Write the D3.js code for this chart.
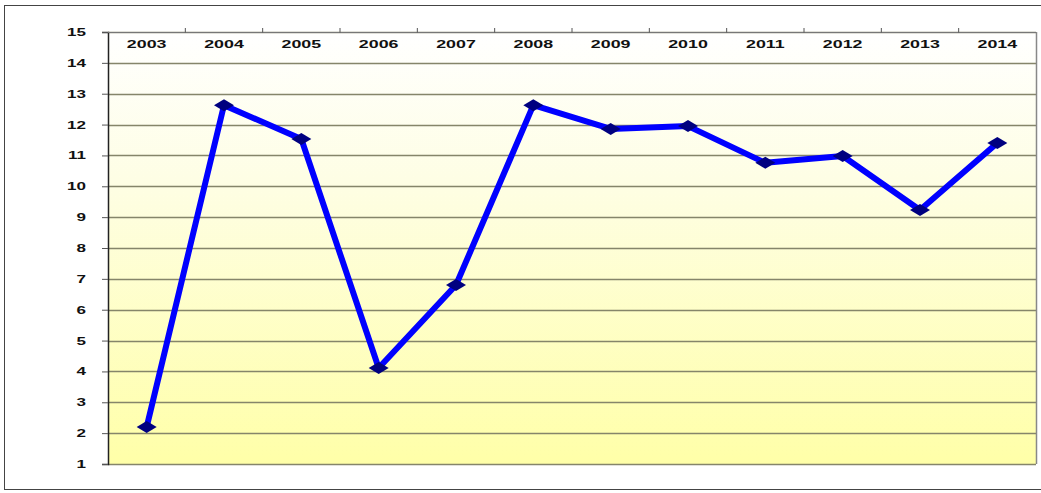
<!DOCTYPE html>
<html>
<head>
<meta charset="utf-8">
<script src="https://cdn.jsdelivr.net/npm/d3@7"></script>
<style>
  body { margin: 0; background: #fff; }
  svg text { font-family: "Liberation Sans", Arial, sans-serif; font-weight: bold; fill: #111; }
</style>
</head>
<body>
<div id="chart"></div>
<script>
// data
const years = ["2003", "2004", "2005", "2006", "2007", "2008", "2009", "2010", "2011", "2012", "2013", "2014"];
const values = [2.2, 12.63, 11.53, 4.11, 6.8, 12.63, 11.86, 11.95, 10.76, 10.98, 9.23, 11.4];
const yTicks = d3.range(1, 16);

const width = 1041, height = 493;
const margin = { top: 32, right: 5, bottom: 29, left: 108 };
const w = width - margin.left - margin.right;
const h = height - margin.top - margin.bottom;
const stretch = 1.55; // the source text is wide, squashed vertically

const svg = d3.select("#chart").append("svg")
  .attr("width", width)
  .attr("height", height);

// outer frame of the chart object
svg.append("rect")
  .attr("x", 4.5).attr("y", 5.5)
  .attr("width", width + 10).attr("height", 484)
  .attr("fill", "#fff")
  .attr("stroke", "#444").attr("stroke-width", 1);

const defs = svg.append("defs");
const grad = defs.append("linearGradient")
  .attr("id", "bg").attr("x1", 0).attr("y1", 0).attr("x2", 0).attr("y2", 1);
grad.append("stop").attr("offset", "0%").attr("stop-color", "#ffffff");
grad.append("stop").attr("offset", "35%").attr("stop-color", "#fefee4");
grad.append("stop").attr("offset", "100%").attr("stop-color", "#ffffa8");

const g = svg.append("g")
  .attr("transform", "translate(" + margin.left + "," + margin.top + ")");

const x = d3.scaleBand().domain(years).range([0, w]);
const y = d3.scaleLinear().domain([1, 15]).range([h, 0]);

g.append("rect")
  .attr("width", w).attr("height", h)
  .attr("fill", "url(#bg)");

// gridlines
g.selectAll(".grid")
  .data(yTicks)
  .join("line")
  .attr("class", "grid")
  .attr("x1", 0).attr("x2", w)
  .attr("y1", (d) => Math.round(y(d)) + 0.5)
  .attr("y2", (d) => Math.round(y(d)) + 0.5)
  .attr("stroke", "#85856a")
  .attr("stroke-width", 1.3);

// right border
g.append("line")
  .attr("x1", w + 0.5).attr("x2", w + 0.5)
  .attr("y1", 0).attr("y2", h)
  .attr("stroke", "#888").attr("stroke-width", 1.5);

// left axis
const yAxis = d3.axisLeft(y).tickValues(yTicks).tickSize(6).tickPadding(0);
const ya = g.append("g").call(yAxis);
ya.select(".domain").attr("stroke", "#222").attr("stroke-width", 1.5);
ya.selectAll(".tick line").attr("stroke", "#555");
ya.selectAll(".tick text")
  .attr("x", null)
  .attr("transform", "translate(-22,0) scale(" + stretch + ",1)")
  .style("font-size", "11px");

// top category axis with ticks between bands
const xa = g.append("g");
xa.append("line")
  .attr("x1", 0).attr("x2", w).attr("y1", 0.5).attr("y2", 0.5)
  .attr("stroke", "#777").attr("stroke-width", 1.2);
xa.selectAll(".xtick")
  .data(years.slice(1))
  .join("line")
  .attr("class", "xtick")
  .attr("x1", (d) => x(d)).attr("x2", (d) => x(d))
  .attr("y1", -4).attr("y2", 0.5)
  .attr("stroke", "#555");
xa.selectAll(".xlab")
  .data(years)
  .join("text")
  .attr("class", "xlab")
  .attr("transform", (d) => "translate(" + (x(d) + x.bandwidth() / 2) + ",16) scale(" + stretch + ",1)")
  .attr("text-anchor", "middle")
  .style("font-size", "11.5px")
  .text((d) => d);

const pts = years.map((d, i) => [x(d) + x.bandwidth() / 2, y(values[i])]);

g.append("path")
  .datum(pts)
  .attr("d", d3.line())
  .attr("fill", "none")
  .attr("stroke", "#0000ff")
  .attr("stroke-width", 6)
  .attr("stroke-linejoin", "round");

g.selectAll(".marker")
  .data(pts)
  .join("path")
  .attr("class", "marker")
  .attr("transform", (d) => "translate(" + d[0] + "," + d[1] + ")")
  .attr("d", "M-10,0L0,-6L10,0L0,6Z")
  .attr("fill", "#000080");
</script>
</body>
</html>
